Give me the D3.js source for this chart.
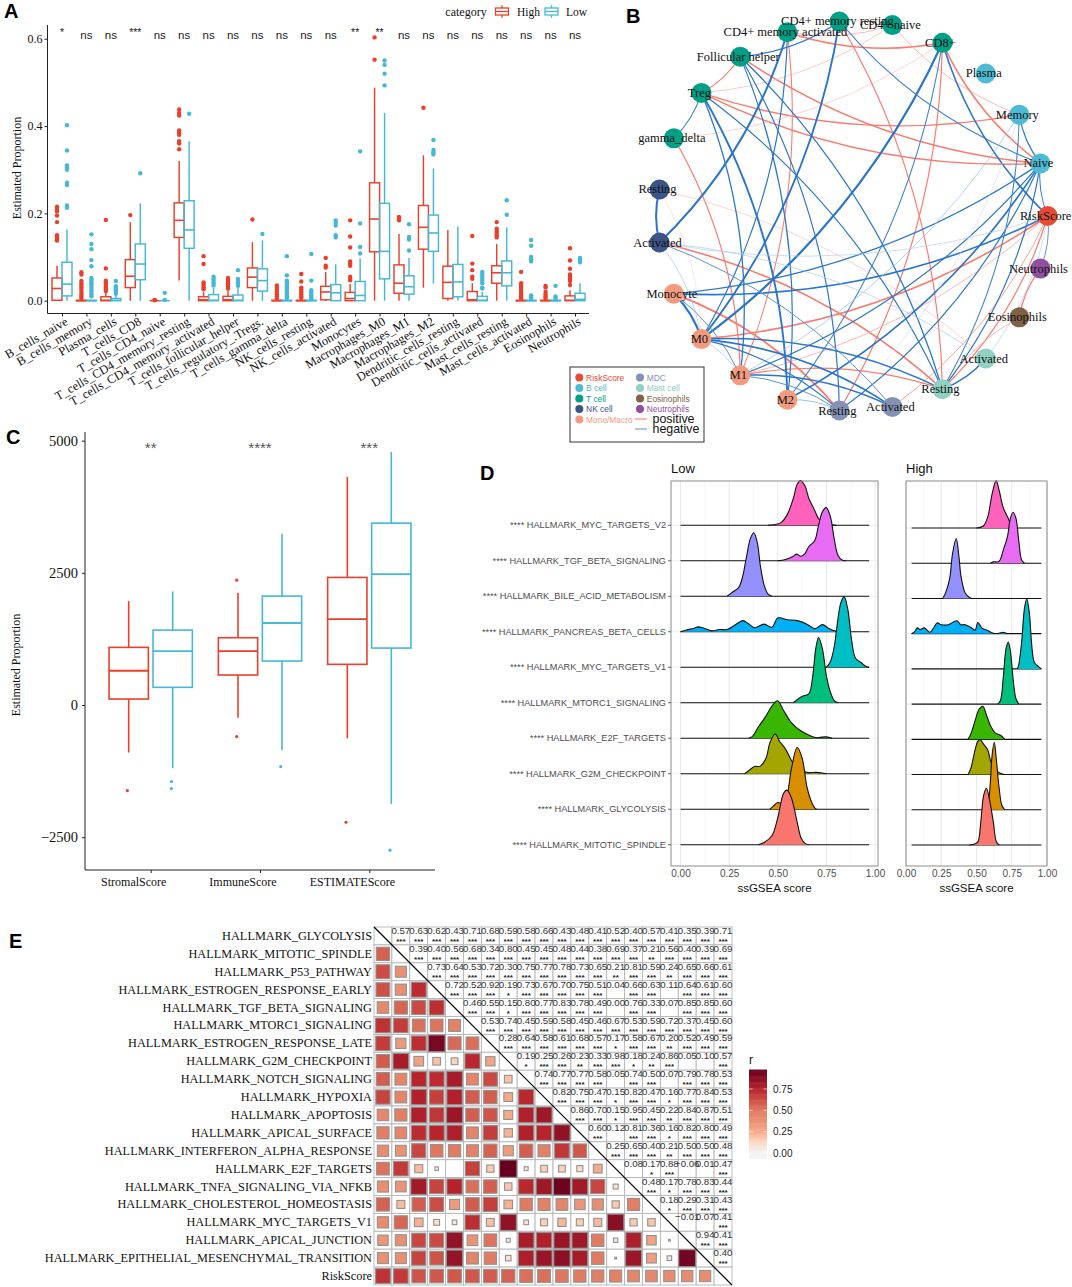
<!DOCTYPE html>
<html><head><meta charset="utf-8">
<script src="https://cdnjs.cloudflare.com/ajax/libs/d3/7.8.5/d3.min.js"></script>
<style>html,body{margin:0;padding:0;background:#fff}svg{display:block}</style></head>
<body><svg id="c" width="1072" height="1287" xmlns="http://www.w3.org/2000/svg"></svg>
<script>
const RED="#E8402A", BLUE="#45B8D6", SERIF="'Liberation Serif',serif", SANS="'Liberation Sans',sans-serif";

// ---------- Panel A data ----------
const aCategories=["B_cells_naive","B_cells_memory","Plasma_cells","T_cells_CD8","T_cells_CD4_naive","T_cells_CD4_memory_resting","T_cells_CD4_memory_activated","T_cells_follicular_helper","T_cells_regulatory_.Tregs.","T_cells_gamma_delta","NK_cells_resting","NK_cells_activated","Monocytes","Macrophages_M0","Macrophages_M1","Macrophages_M2","Dendritic_cells_resting","Dendritic_cells_activated","Mast_cells_resting","Mast_cells_activated","Eosinophils","Neutrophils"];
const aSignif=["*","ns","ns","***","ns","ns","ns","ns","ns","ns","ns","ns","**","**","ns","ns","ns","ns","ns","ns","ns","ns"];
// [lower whisker, q1, median, q3, upper whisker]
const aHighBox=[[0,.001,.028,.052,.08],[0,0,0,.001,.002],[0,0,.001,.009,.02],[0,.03,.056,.094,.18],[0,0,0,0,0],[.046,.145,.184,.224,.32],[0,0,.002,.009,.02],[0,0,.002,.01,.024],[0,.03,.054,.075,.134],[0,0,0,.001,.002],[0,0,0,.001,.002],[0,.002,.02,.033,.066],[0,0,.005,.019,.038],[0,.112,.187,.27,.488],[0,.017,.04,.082,.153],[.03,.118,.168,.218,.333],[0,.005,.042,.079,.162],[0,0,.002,.021,.04],[0,.04,.064,.08,.13],[0,0,0,.001,.002],[0,0,0,.001,.002],[0,0,.001,.011,.024]];
const aLowBox=[[0,.011,.038,.088,.163],[0,0,0,.001,.002],[0,0,.001,.005,.012],[0,.048,.084,.13,.223],[0,0,0,0,0],[0,.12,.162,.229,.365],[0,0,.001,.014,.03],[0,0,.001,.013,.03],[0,.022,.046,.073,.138],[0,0,0,.001,.002],[0,0,0,.001,.002],[0,0,.018,.037,.083],[0,0,.012,.044,.097],[0,.05,.113,.223,.43],[0,.015,.032,.057,.098],[.039,.113,.155,.196,.303],[0,.009,.043,.083,.17],[0,0,.001,.01,.02],[0,.034,.064,.091,.168],[0,0,0,.001,.002],[0,0,0,.001,.002],[0,0,.003,.017,.04]];
const aHighOut=[[.215,.21,.205,.195,.18,.15,.145,.14,.138],[.065,.06,.045,.04,.035,.03,.025,.02,.015,.01,.005],[.185,.074,.046,.042,.038,.034,.03,.026,.022],[.196],[.002,.001],[.438,.43,.424,.39,.385,.38,.365,.36,.347],[.102,.084,.042,.038,.034,.03,.026],[.052,.048,.044,.04,.036,.032,.028],[.186],[.035,.03,.025,.02,.015,.01,.005],[.061,.044,.03,.026,.022,.018,.014,.01,.006],[.098,.08,.076],[.184,.147,.122,.09,.085,.08,.055,.05,.047],[.603,.552],[.192,.188,.184],[.442],[],[.148,.085,.07,.055,.05],[.18,.165,.16,.155,.15,.145],[.066,.04,.035,.03,.025,.02,.015,.01,.005],[.034,.03,.02,.015,.01,.005],[.12,.092,.073,.06,.055,.05,.045,.036]];
const aLowOut=[[.402,.344,.31,.305,.30,.27,.265,.218,.213],[.152,.13,.118,.093,.079,.052,.048,.044,.04,.036,.03,.025,.02,.015,.01],[.045,.033,.028,.024,.02,.016],[.292],[.018,.002],[.428],[.055,.05,.045,.04,.035],[.07,.05,.046,.042,.038,.034],[.153],[.102,.058,.046,.042,.038,.034,.03,.026,.022,.018,.014,.01,.006],[.107,.046,.024,.02,.016,.012,.008,.004],[.184,.178,.172,.15,.145],[.342,.177,.123,.108],[.55,.54,.52,.493],[.175,.146,.14,.115],[.368,.345,.34,.335],[],[.066,.06,.055,.05,.045,.04,.03,.028],[.23,.197],[.139,.126,.1,.095,.09,.012,.008,.004],[.034,.01,.006,.003],[.098,.094,.088]];
const aTicks=[0,.2,.4,.6];

// ---------- Panel B data ----------
const bNodes=["RiskScore","Naive","Memory","Plasma","CD8+","CD4+ naive","CD4+ memory resting","CD4+ memory activated","Follicular helper","Treg","gamma_delta","Resting","Activated","Monocyte","M0","M1","M2","Resting","Activated","Resting","Activated","Eosinophils","Neutrophils"];
const bGroups=["RiskScore","B cell","B cell","B cell","T cell","T cell","T cell","T cell","T cell","T cell","T cell","NK cell","NK cell","Mono/Macro","Mono/Macro","Mono/Macro","Mono/Macro","MDC","MDC","Mast cell","Mast cell","Eosinophils","Neutrophils"];
const bGroupNames=["RiskScore","B cell","T cell","NK cell","Mono/Macro","MDC","Mast cell","Eosinophils","Neutrophils"];
const bGroupColors=["#E64B35","#4DBBD5","#00A087","#3C5488","#F39B7F","#8491B4","#91D1C2","#7E6148","#8E4F9E"];
// [node a, node b, strength]; the curve bows to the left of a -> b
const bPositive=[[1,9,.6],[2,9,.55],[1,8,.6],[4,7,.65],[5,9,.25],[4,10,.22],[6,19,.5],[7,15,.45],[4,17,.5],[2,5,.3],[5,7,.3],[8,9,.45],[10,15,.5],[11,20,.22],[11,14,.15],[12,19,.7],[13,17,.75],[0,14,.7],[0,15,.3],[15,19,.5],[0,18,.35],[0,19,.5],[21,22,.55],[19,21,.3],[1,4,.65]];
const bNegative=[[7,12,.85],[6,14,.8],[4,14,.95],[6,8,.55],[7,14,.5],[8,16,.5],[8,17,.5],[8,19,.55],[9,15,.55],[9,16,.8],[9,19,.5],[9,10,.45],[1,6,.45],[0,4,.7],[4,16,.45],[1,16,.7],[1,17,.5],[1,15,.5],[1,13,.55],[0,13,.7],[0,1,.45],[1,2,.5],[2,19,.45],[2,15,.25],[2,17,.15],[1,19,.5],[0,22,.4],[20,19,.6],[0,20,.2],[12,11,.85],[12,14,.22],[12,20,.22],[12,18,.4],[0,12,.2],[13,14,.9],[13,15,.4],[14,15,.22],[14,19,.65],[14,18,.7],[14,17,.5],[15,18,.65],[15,17,.4],[16,17,.3]];

// ---------- Panel C data ----------
const cCategories=["StromalScore","ImmuneScore","ESTIMATEScore"];
const cSignif=["**","****","***"];
const cHighBox=[[-900,113,649,1090,1966],[-239,567,1020,1273,2123],[-630,769,1625,2413,4315]];
const cLowBox=[[-1197,334,1020,1417,2148],[-850,832,1550,2060,3238],[-1871,1077,2476,3440,4788]];
const cHighOut=[[-1619],[2362,-598],[-2218]];
const cLowOut=[[-1449,-1581],[-1165],[-2747]];
const cTicks=[-2500,0,2500,5000];

// ---------- Panel D data ----------
const dLabels=["HALLMARK_MYC_TARGETS_V2","HALLMARK_TGF_BETA_SIGNALING","HALLMARK_BILE_ACID_METABOLISM","HALLMARK_PANCREAS_BETA_CELLS","HALLMARK_MYC_TARGETS_V1","HALLMARK_MTORC1_SIGNALING","HALLMARK_E2F_TARGETS","HALLMARK_G2M_CHECKPOINT","HALLMARK_GLYCOLYSIS","HALLMARK_MITOTIC_SPINDLE"];
const dColors=["#FF62BC","#E76BF3","#9590FF","#00B0F6","#00BFC4","#00BF7D","#39B600","#A3A500","#D89000","#F8766D"];
const dLow=[
[[.45,0],[.5,.03],[.52,.07],[.55,.25],[.58,.6],[.6,.92],[.617,1],[.64,.88],[.66,.6],[.69,.33],[.71,.15],[.74,.04],[.78,.01],[.8,0]],
[[.5,0],[.54,.03],[.58,.1],[.595,.15],[.62,.1],[.64,.16],[.66,.32],[.69,.45],[.71,.8],[.73,1.1],[.749,1.19],[.77,1],[.79,.5],[.81,.12],[.83,.02],[.85,0]],
[[.24,0],[.27,.1],[.3,.2],[.32,.45],[.34,.9],[.36,1.3],[.377,1.42],[.395,1.2],[.41,.7],[.43,.25],[.45,.05],[.47,0]],
[[0,0],[.03,.04],[.07,.08],[.09,.11],[.12,.08],[.16,.02],[.2,.05],[.24,.05],[.28,.15],[.32,.25],[.35,.18],[.38,.09],[.43,.17],[.47,.1],[.5,.31],[.55,.27],[.6,.25],[.65,.17],[.69,.07],[.73,.16],[.76,.08],[.8,.01],[.82,0]],
[[.75,0],[.77,.12],[.79,.45],[.81,1.1],[.825,1.45],[.841,1.58],[.86,1.3],[.88,.6],[.9,.2],[.93,.1],[.95,.03],[.97,0]],
[[.58,0],[.61,.1],[.63,.15],[.66,.2],[.68,.6],[.695,1.2],[.71,1.46],[.73,1.2],[.75,.6],[.77,.25],[.79,.05],[.81,0]],
[[.35,0],[.37,.04],[.4,.25],[.44,.5],[.47,.72],[.499,.84],[.53,.62],[.57,.35],[.62,.16],[.67,.05],[.7,.01],[.72,.02],[.75,.03],[.78,0]],
[[.33,0],[.36,.1],[.38,.16],[.41,.17],[.44,.35],[.46,.7],[.487,.89],[.51,.72],[.54,.55],[.57,.3],[.6,.12],[.65,.03],[.7,.03],[.75,0]],
[[.46,0],[.48,.08],[.5,.15],[.53,.12],[.55,.35],[.57,.9],[.6,1.38],[.625,1.15],[.65,.5],[.67,.2],[.69,.03],[.7,0]],
[[.4,0],[.43,.05],[.47,.2],[.5,.6],[.53,1.15],[.547,1.22],[.57,1.05],[.6,.5],[.62,.15],[.64,.03],[.66,0]]];
const dHigh=[
[[.5,0],[.55,.05],[.58,.25],[.61,.75],[.639,1.06],[.66,.85],[.69,.45],[.72,.25],[.75,.05],[.78,0]],
[[.6,0],[.62,.03],[.66,.04],[.69,.3],[.72,.6],[.74,1],[.76,1.14],[.78,1],[.8,.5],[.82,.07],[.84,0]],
[[.26,0],[.28,.12],[.31,.45],[.33,1],[.356,1.34],[.375,.95],[.39,.5],[.42,.12],[.45,.02],[.47,0]],
[[.04,0],[.06,.04],[.08,.13],[.1,.09],[.13,.13],[.17,.03],[.2,.15],[.22,.24],[.25,.2],[.3,.2],[.36,.29],[.39,.2],[.42,.2],[.46,.14],[.49,.08],[.51,.25],[.54,.12],[.58,.07],[.62,.01],[.66,.01],[.69,.03],[.72,0]],
[[.79,0],[.8,.1],[.82,.6],[.84,1.35],[.856,1.57],[.875,1.25],[.89,.6],[.91,.15],[.94,.05],[.96,0]],
[[.65,0],[.67,.08],[.69,.6],[.71,1.25],[.725,1.39],[.74,1.2],[.76,.55],[.78,.12],[.8,0]],
[[.44,0],[.46,.12],[.49,.42],[.52,.68],[.545,.74],[.57,.55],[.6,.3],[.63,.15],[.67,.09],[.7,0]],
[[.44,0],[.46,.14],[.49,.55],[.51,.75],[.527,.78],[.55,.68],[.58,.55],[.6,.3],[.63,.1],[.67,.03],[.7,0]],
[[.56,0],[.58,.1],[.6,.7],[.61,1.2],[.626,1.51],[.64,1.15],[.66,.5],[.68,.1],[.7,0]],
[[.45,0],[.49,.03],[.51,.07],[.53,.5],[.55,1.1],[.57,1.27],[.59,1.05],[.62,.5],[.64,.08],[.66,0]]];
const dTicks=[0,.25,.5,.75,1];

// ---------- Panel E data ----------
const eLabels=["HALLMARK_GLYCOLYSIS","HALLMARK_MITOTIC_SPINDLE","HALLMARK_P53_PATHWAY","HALLMARK_ESTROGEN_RESPONSE_EARLY","HALLMARK_TGF_BETA_SIGNALING","HALLMARK_MTORC1_SIGNALING","HALLMARK_ESTROGEN_RESPONSE_LATE","HALLMARK_G2M_CHECKPOINT","HALLMARK_NOTCH_SIGNALING","HALLMARK_HYPOXIA","HALLMARK_APOPTOSIS","HALLMARK_APICAL_SURFACE","HALLMARK_INTERFERON_ALPHA_RESPONSE","HALLMARK_E2F_TARGETS","HALLMARK_TNFA_SIGNALING_VIA_NFKB","HALLMARK_CHOLESTEROL_HOMEOSTASIS","HALLMARK_MYC_TARGETS_V1","HALLMARK_APICAL_JUNCTION","HALLMARK_EPITHELIAL_MESENCHYMAL_TRANSITION","RiskScore"];
const eUpper=[
[.57,.63,.62,.43,.71,.68,.59,.58,.66,.43,.48,.41,.52,.40,.57,.41,.35,.39,.71],
[.39,.40,.56,.68,.34,.80,.45,.45,.48,.44,.38,.69,.37,.21,.56,.40,.39,.69],
[.73,.64,.53,.72,.30,.75,.77,.78,.73,.65,.21,.81,.59,.24,.65,.66,.61],
[.72,.52,.92,.19,.73,.67,.70,.75,.51,.04,.66,.63,.11,.64,.61,.60],
[.46,.55,.15,.80,.77,.83,.78,.49,.00,.76,.33,.07,.85,.85,.60],
[.53,.74,.45,.59,.58,.45,.46,.67,.53,.59,.72,.37,.45,.60],
[.28,.64,.58,.61,.68,.57,.17,.58,.67,.20,.52,.49,.59],
[.19,.25,.26,.23,.33,.98,.18,.24,.86,.05,.10,.57],
[.74,.77,.77,.58,.05,.74,.50,.07,.79,.78,.53],
[.82,.75,.47,.15,.82,.47,.16,.77,.84,.53],
[.86,.70,.15,.95,.45,.22,.84,.87,.51],
[.60,.12,.81,.36,.16,.82,.80,.49],
[.25,.65,.40,.21,.50,.50,.48],
[.08,.17,.88,-.06,.01,.47],
[.48,.17,.78,.83,.44],
[.18,.29,.31,.43],
[-.01,.07,.41],
[.94,.41],
[.40]];
const eLegendTicks=[0,.25,.5,.75];

// ---------- Drawing ----------
const svg=d3.select("#c");
svg.append("rect").attr("width",1072).attr("height",1287).attr("fill","#fff");
function txt(g,x,y,s,o={}){const t=g.append("text").attr("x",x).attr("y",y).text(s)
 .attr("font-family",o.ff||SERIF).attr("font-size",o.fs||12).attr("fill",o.fill||"#111")
 .attr("text-anchor",o.a||"start").attr("dominant-baseline",o.db||"central");
 if(o.w)t.attr("font-weight",o.w);if(o.t)t.attr("transform",o.t);if(o.ls)t.attr("letter-spacing",o.ls);return t;}
function drawBox(g,x,w,s,outs,col,y,o){
 g.append("line").attr("x1",x).attr("x2",x).attr("y1",y(s[0])).attr("y2",y(s[1])).attr("stroke",col).attr("stroke-width",o.lw);
 g.append("line").attr("x1",x).attr("x2",x).attr("y1",y(s[3])).attr("y2",y(s[4])).attr("stroke",col).attr("stroke-width",o.lw);
 g.append("rect").attr("x",x-w/2).attr("width",w).attr("y",y(s[3])).attr("height",Math.max(0,y(s[1])-y(s[3])))
  .attr("fill","none").attr("stroke",col).attr("stroke-width",o.lw);
 g.append("line").attr("x1",x-w/2).attr("x2",x+w/2).attr("y1",y(s[2])).attr("y2",y(s[2])).attr("stroke",col).attr("stroke-width",o.med);
 g.selectAll(null).data(outs).enter().append("circle").attr("cx",x+(o.odx||0)).attr("cy",d=>y(d)).attr("r",o.r).attr("fill",col);
}
function styleAxis(a,o){a.select(".domain").attr("stroke",o.c||"#222").attr("stroke-width",o.lw||1);
 a.selectAll(".tick line").attr("stroke",o.c||"#222").attr("stroke-width",o.lw||1);
 a.selectAll(".tick text").attr("font-family",o.ff||SERIF).attr("font-size",o.fs||12).attr("fill",o.fill||"#111");}

// Panel letters
[["A",4,18],["B",626,23],["C",6,444],["D",480,480],["E",9,948]].forEach(d=>
 txt(svg,d[1],d[2],d[0],{ff:SANS,fs:20,w:700,db:"auto",fill:"#000"}));

// ---- A
(function(){
 const g=svg.append("g");
 const x=d3.scalePoint().domain(aCategories).range([62,575]);
 const y=d3.scaleLinear().domain([0,.6]).range([300.7,38.7]);
 const ya=g.append("g").attr("transform","translate(47.5,0)").call(d3.axisLeft(y).tickValues(aTicks).tickFormat(d3.format(".1f")).tickSize(3).tickSizeOuter(0));
 ya.select(".domain").attr("d","M0,25V313.5");
 styleAxis(ya,{fs:12});
 ya.selectAll(".tick text").attr("x",-5);
 const xa=g.append("g").attr("transform","translate(0,313.5)").call(d3.axisBottom(x).tickSize(3).tickSizeOuter(0));
 xa.select(".domain").attr("d","M47.5,0H589");
 styleAxis(xa,{fs:12.4});
 xa.selectAll(".tick text").attr("text-anchor","end").attr("transform","translate(2.5,4) rotate(-30)").attr("dy",".6em").attr("y",0).attr("x",0);
 txt(g,17,168,"Estimated Proportion",{a:"middle",fs:12,t:"rotate(-90 17 168)"});
 aCategories.forEach((c,i)=>{
  drawBox(g,x(c)-5,10,aHighBox[i],aHighOut[i],RED,y,{lw:1.45,med:1.6,r:2.2});
  drawBox(g,x(c)+5,10,aLowBox[i],aLowOut[i],BLUE,y,{lw:1.45,med:1.6,r:2.2});
  const star=aSignif[i]!=="ns";
  txt(g,x(c),star?32:35,aSignif[i],{ff:SANS,fs:star?10.5:11.5,a:"middle",fill:"#222"});
 });
 // legend
 txt(g,466,12,"category",{a:"middle",fs:12});
 [["High",502,RED,517],["Low",551.5,BLUE,566]].forEach(d=>{
  const gy=d3.scaleLinear().domain([0,1]).range([15,8]);
  drawBox(g,d[1],13,[-.4,0,.5,1,1.4],[],d[2],gy,{lw:1.3,med:1.3,r:0});
  txt(g,d[3],12,d[0],{fs:11.5});
 });
})();

// ---- B
(function(){
 const g=svg.append("g");
 const cx=852.7,cy=216,R=195;
 const ang=d3.scaleLinear().domain([0,bNodes.length]).range([0,2*Math.PI]);
 const P=i=>[cx+R*Math.cos(ang(i)),cy-R*Math.sin(ang(i))];
 const color=d3.scaleOrdinal().domain(bGroupNames).range(bGroupColors);
 const width=d3.scalePow().exponent(1.5).domain([.15,.95]).range([.6,2.3]);
 const edgePath=(a,b)=>{const [x1,y1]=P(a),[x2,y2]=P(b);const dx=x2-x1,dy=y2-y1,k=.13;
  const p=d3.path();p.moveTo(x1,y1);p.quadraticCurveTo((x1+x2)/2+dy*k,(y1+y2)/2-dx*k,x2,y2);return p.toString();};
 const tintP=d3.scaleLinear().domain([.15,.45]).range(["#fcd4cf","#fb7a6e"]).clamp(true);
 const tintN=d3.scaleLinear().domain([.15,.5]).range(["#c9dcf3","#2a75cb"]).clamp(true);
 g.selectAll(".p").data(bPositive).enter().append("path").attr("d",d=>edgePath(d[0],d[1])).attr("fill","none").attr("stroke",d=>tintP(d[2])).attr("stroke-width",d=>width(d[2]));
 g.selectAll(".n").data(bNegative).enter().append("path").attr("d",d=>edgePath(d[0],d[1])).attr("fill","none").attr("stroke",d=>tintN(d[2])).attr("stroke-width",d=>width(d[2]));
 bNodes.forEach((n,i)=>{const [x,y]=P(i);g.append("circle").attr("cx",x).attr("cy",y).attr("r",10).attr("fill",color(bGroups[i]));});
 bNodes.forEach((n,i)=>{const [x,y]=P(i);txt(g,x-2,y,n,{a:"middle",fs:12.5,fill:"#111"});});
 // legend
 const l=svg.append("g");
 l.append("rect").attr("x",570).attr("y",367).attr("width",134).attr("height",75).attr("fill","#fff").attr("stroke","#333").attr("stroke-width",1);
 const yy=d3.scalePoint().domain(d3.range(5)).range([377.5,419.5]);
 bGroupNames.forEach((n,i)=>{const c=i<5,x=c?579.3:640,y=yy(c?i:i-5);
  l.append("circle").attr("cx",x).attr("cy",y).attr("r",4).attr("fill",bGroupColors[i]);
  txt(l,x+6.8,y,n,{ff:SANS,fs:8.4,fill:bGroupColors[i]});});
 [["positive","#fb8a80",419],["negative","#7a9fd8",429]].forEach(d=>{
  l.append("line").attr("x1",635).attr("x2",647).attr("y1",d[2]).attr("y2",d[2]).attr("stroke",d[1]).attr("stroke-width",1.2);
  txt(l,652.5,d[2],d[0],{ff:SANS,fs:12.4,fill:"#111"});});
})();

// ---- C
(function(){
 const g=svg.append("g");
 const x=d3.scalePoint().domain(cCategories).range([150.7,369.3]);
 const y=d3.scaleLinear().domain([0,5000]).range([705,440.7]);
 const ya=g.append("g").attr("transform","translate(85,0)").call(d3.axisLeft(y).tickValues(cTicks).tickFormat(d=>d<0?"\u2212"+(-d):d).tickSize(3).tickSizeOuter(0));
 ya.select(".domain").attr("d","M0,432V870");
 styleAxis(ya,{fs:14.5});
 ya.selectAll(".tick text").attr("x",-7);
 const xa=g.append("g").attr("transform","translate(0,870)").call(d3.axisBottom(x).tickSize(3).tickSizeOuter(0));
 xa.select(".domain").attr("d","M85,0H435");
 styleAxis(xa,{fs:12});
 xa.selectAll(".tick text").attr("x",-17.5).attr("y",7).attr("dy",".71em");
 txt(g,16,665,"Estimated Proportion",{a:"middle",fs:12,t:"rotate(-90 16 665)"});
 cCategories.forEach((c,i)=>{
  drawBox(g,x(c)-22,39.3,cHighBox[i],cHighOut[i],RED,y,{lw:1.6,med:1.9,r:1.6,odx:-1.3});
  drawBox(g,x(c)+22,39.3,cLowBox[i],cLowOut[i],BLUE,y,{lw:1.6,med:1.9,r:1.6,odx:-1.3});
  txt(g,x(c),447,cSignif[i],{ff:SANS,fs:15,a:"middle",fill:"#555"});
 });
})();

// ---- D
(function(){
 const g=svg.append("g");
 const panels=[
  {name:"Low",data:dLow,fx:[671,878],x:d3.scaleLinear().domain([0,1]).range([680.5,875]),base:d3.scalePoint().domain(dLabels).range([525.3,844.7]),ext:[0,.97]},
  {name:"High",data:dHigh,fx:[906,1047],x:d3.scaleLinear().domain([0,1]).range([906,1047]),base:d3.scalePoint().domain(dLabels).range([528,845]),ext:[.04,.96]}];
 const h=d3.scaleLinear().domain([0,1]).range([0,-44.7]);
 const curve=d3.curveCatmullRom.alpha(.5);
 panels.forEach((p,pi)=>{
  const pg=g.append("g");
  const top=481,bot=866;
  pg.append("rect").attr("x",p.fx[0]).attr("y",top).attr("width",p.fx[1]-p.fx[0]).attr("height",bot-top).attr("fill","#fff");
  const minor=[.125,.375,.625,.875];
  pg.selectAll(null).data(minor).enter().append("line").attr("x1",d=>p.x(d)).attr("x2",d=>p.x(d)).attr("y1",top).attr("y2",bot).attr("stroke","#f3f3f3").attr("stroke-width",.6);
  pg.selectAll(null).data(dTicks).enter().append("line").attr("x1",d=>p.x(d)).attr("x2",d=>p.x(d)).attr("y1",top).attr("y2",bot).attr("stroke","#e6e6e6").attr("stroke-width",.9);
  pg.selectAll(null).data(dLabels).enter().append("line").attr("x1",p.fx[0]).attr("x2",p.fx[1]).attr("y1",d=>p.base(d)).attr("y2",d=>p.base(d)).attr("stroke","#ececec").attr("stroke-width",.9);
  dLabels.forEach((lab,i)=>{
   const pts=p.data[i];
   const b=p.base(lab);
   const area=d3.area().x(d=>p.x(d[0])).y0(b).y1(d=>Math.min(b,b+h(d[1]))).curve(curve);
   const line=d3.line().x(d=>p.x(d[0])).y(d=>Math.min(b,b+h(d[1]))).curve(curve);
   pg.append("line").attr("x1",p.x(p.ext[0])).attr("x2",p.x(p.ext[1])).attr("y1",b).attr("y2",b).attr("stroke","#111").attr("stroke-width",1.1);
   pg.append("path").attr("d",area(pts)).attr("fill",dColors[i]);
   pg.append("path").attr("d",line(pts)).attr("fill","none").attr("stroke","#111").attr("stroke-width",1.1);
  });
  pg.append("rect").attr("x",p.fx[0]).attr("y",top).attr("width",p.fx[1]-p.fx[0]).attr("height",bot-top).attr("fill","none").attr("stroke","#8a8a8a").attr("stroke-width",1);
  const xa=pg.append("g").attr("transform",`translate(0,${bot})`).call(d3.axisBottom(p.x).tickValues(dTicks).tickFormat(d3.format(".2f")).tickSize(0));
  xa.select(".domain").remove();
  styleAxis(xa,{ff:SANS,fs:10,fill:"#4d4d4d"});
  xa.selectAll(".tick text").attr("y",4).attr("dy",".71em");
  txt(pg,(p.fx[0]+p.fx[1])/2,888,"ssGSEA score",{ff:SANS,fs:11.5,a:"middle",fill:"#111"});
  txt(pg,p.fx[0],468,p.name,{ff:SANS,fs:13,fill:"#111"});
  if(pi===0){dLabels.forEach(lab=>{
    const b=p.base(lab);
    pg.append("line").attr("x1",668).attr("x2",671).attr("y1",b).attr("y2",b).attr("stroke","#444").attr("stroke-width",.8);
    txt(pg,666,b,"**** "+lab,{ff:SANS,fs:9.2,a:"end",fill:"#4d4d4d"});
  });}
 });
})();

// ---- E
(function(){
 const g=svg.append("g");
 const n=eLabels.length;
 const xs=d3.scaleBand().domain(d3.range(n)).range([374,732]);
 const ys=d3.scaleBand().domain(d3.range(n)).range([927,1285]);
 const cw=xs.bandwidth();
 const col=d3.scaleLinear().domain([0,.125,.25,.5,.75,.97]).range(["#f4f4f4","#fddbc7","#f5ab8a","#e07a60","#b8242c","#67001f"]).clamp(true);
 const r=(i,j)=>eUpper[Math.min(i,j)][Math.abs(i-j)-1];
 const stars=v=>{const a=Math.abs(v);return a>=.25?"***":a>=.2?"**":a>=.15?"*":"";};
 for(let i=0;i<n;i++){
  txt(g,372,ys(i)+cw/2,eLabels[i],{fs:12.3,a:"end",fill:"#111"});
  for(let j=0;j<n;j++){
   g.append("rect").attr("x",xs(j)).attr("y",ys(i)).attr("width",cw).attr("height",cw).attr("fill","#fff").attr("stroke","#b5b5b5").attr("stroke-width",.9);
  }
 }
 for(let i=0;i<n;i++)for(let j=0;j<n;j++){
  if(j<i){const v=r(i,j),s=cw*Math.sqrt(Math.abs(v))*.98;
   g.append("rect").attr("x",xs(j)+(cw-s)/2).attr("y",ys(i)+(cw-s)/2).attr("width",s).attr("height",s).attr("fill",col(Math.abs(v))).attr("stroke","#929292").attr("stroke-width",1.1);
  } else if(j>i){const v=r(i,j);
   txt(g,xs(j)+cw/2,ys(i)+3.5,v.toFixed(2).replace("-","\u2212"),{ff:SANS,fs:9.7,a:"middle",fill:"#333"});
   const st=stars(v); if(st) txt(g,xs(j)+cw/2,ys(i)+14.5,st,{ff:SANS,fs:8,w:700,a:"middle",fill:"#222"});
  }
 }
 g.append("line").attr("x1",xs(0)).attr("y1",ys(0)).attr("x2",xs(n-1)+cw).attr("y2",ys(n-1)+cw).attr("stroke","#000").attr("stroke-width",1.2);
 // legend
 const ly=d3.scaleLinear().domain([0,.75]).range([1153,1089]);
 const vals=d3.range(-.06,.975,.01);
 g.selectAll(null).data(vals).enter().append("rect").attr("x",749).attr("width",18).attr("y",d=>ly(d)-.7).attr("height",1.4).attr("fill",d=>col(Math.max(0,d)));
 eLegendTicks.forEach(t=>{
  g.append("line").attr("x1",749).attr("x2",752.6).attr("y1",ly(t)).attr("y2",ly(t)).attr("stroke","#fff").attr("stroke-width",.6);
  g.append("line").attr("x1",763.4).attr("x2",767).attr("y1",ly(t)).attr("y2",ly(t)).attr("stroke","#fff").attr("stroke-width",.6);
  txt(g,773,ly(t),t.toFixed(2),{ff:SANS,fs:10,fill:"#222"});
 });
 txt(g,749,1060,"r",{ff:SANS,fs:12,fill:"#111"});
})();
</script></body></html>
